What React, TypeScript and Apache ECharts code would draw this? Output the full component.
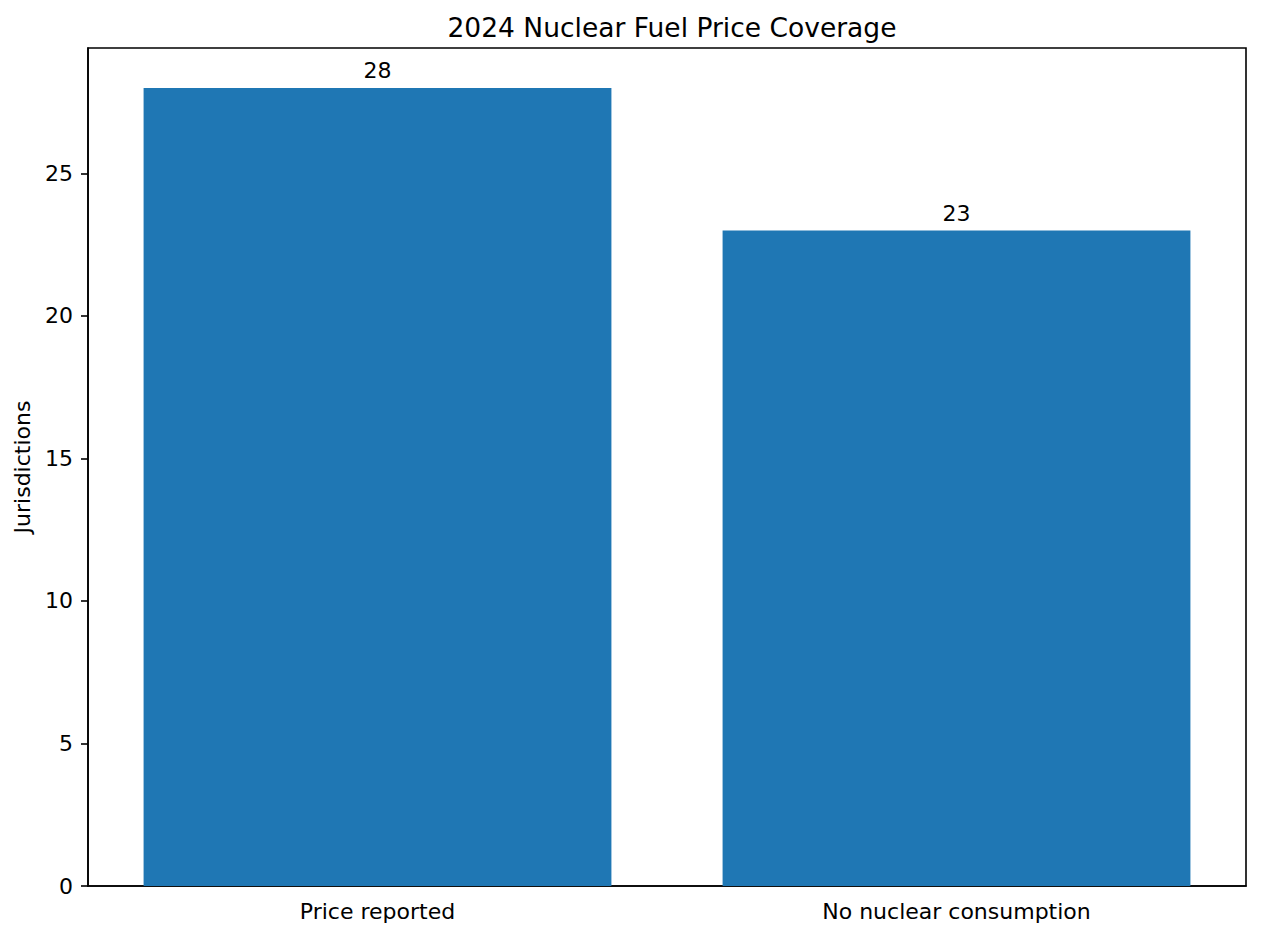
import React, { useEffect, useRef } from "react";
import * as echarts from "echarts";

const categories = ["Price reported", "No nuclear consumption"];
const jurisdictionCounts = [28, 23];
const yTicks = [0, 5, 10, 15, 20, 25];

const FONT = "DejaVu Sans";

const App = () => {
  const chartRef = useRef<HTMLDivElement>(null);

  // eslint-disable-next-line consistent-return
  useEffect(() => {
    document.body.style.margin = "0";
    if (chartRef.current) {
      const chart = echarts.init(chartRef.current, null, { renderer: "svg" });
      const options: echarts.EChartsOption = {
        animation: false,
        backgroundColor: "#ffffff",
        textStyle: { fontFamily: FONT },
        title: {
          text: "2024 Nuclear Fuel Price Coverage",
          left: 667,
          textAlign: "center",
          top: 9,
          textStyle: {
            fontFamily: FONT,
            fontSize: 26.5,
            fontWeight: "normal",
            color: "#000000",
          },
        },
        grid: {
          left: 88,
          right: 15,
          top: 48,
          bottom: 53,
          show: true,
          borderColor: "#000000",
          borderWidth: 1.6,
        },
        xAxis: {
          type: "category",
          data: categories,
          axisLine: { lineStyle: { color: "#000000", width: 1.6 } },
          axisTick: {
            alignWithLabel: true,
            length: 7,
            lineStyle: { color: "#000000", width: 1.6 },
          },
          axisLabel: {
            color: "#000000",
            fontFamily: FONT,
            fontSize: 22,
            margin: 14,
          },
        },
        yAxis: {
          type: "value",
          min: 0,
          max: 29.4,
          interval: 5,
          name: "Jurisdictions",
          nameLocation: "middle",
          nameGap: 55,
          nameTextStyle: { color: "#000000", fontFamily: FONT, fontSize: 22 },
          splitLine: { show: false },
          axisLine: { show: true, lineStyle: { color: "#000000", width: 1.6 } },
          axisTick: {
            show: true,
            length: 7,
            lineStyle: { color: "#000000", width: 1.6 },
          },
          axisLabel: {
            color: "#000000",
            fontFamily: FONT,
            fontSize: 22,
            margin: 15,
            showMaxLabel: false,
            formatter: (v: number) => (yTicks.includes(v) ? String(v) : ""),
          },
        },
        series: [
          {
            type: "bar",
            data: jurisdictionCounts,
            barWidth: "80.8%",
            itemStyle: { color: "#1f77b4" },
            label: {
              show: true,
              position: "top",
              distance: 6,
              color: "#000000",
              fontFamily: FONT,
              fontSize: 22,
            },
          },
        ],
      };
      chart.setOption(options);
      return () => {
        chart.dispose();
      };
    }
  }, []);

  return (
    <div
      ref={chartRef}
      style={{ position: "absolute", left: 0, top: 0, width: "1261px", height: "939px" }}
    />
  );
};

export default App;
